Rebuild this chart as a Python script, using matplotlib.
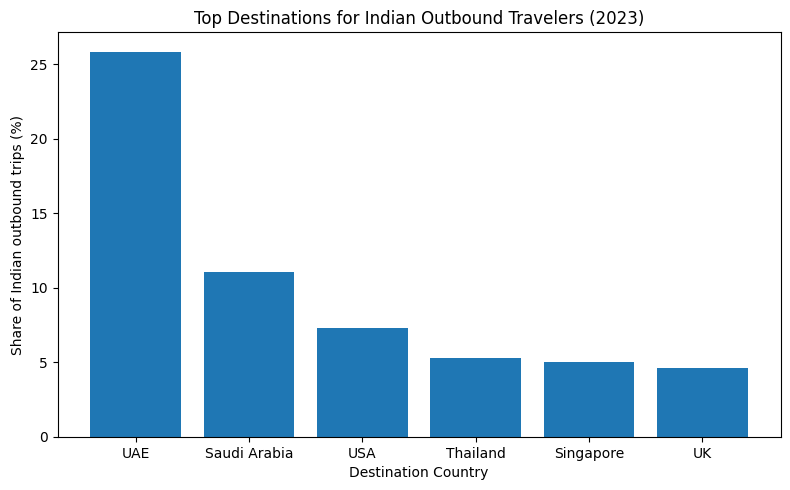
import matplotlib
matplotlib.use("Agg")
import matplotlib.pyplot as plt

countries = ["UAE", "Saudi Arabia", "USA", "Thailand", "Singapore", "UK"]
shares = [25.85, 11.1, 7.3, 5.3, 5.0, 4.6]

fig, ax = plt.subplots(figsize=(7.9, 4.9), dpi=100)
ax.bar(countries, shares, color="#1f77b4")
ax.set_title("Top Destinations for Indian Outbound Travelers (2023)")
ax.set_xlabel("Destination Country")
ax.set_ylabel("Share of Indian outbound trips (%)")
fig.subplots_adjust(left=0.0728, right=0.988, top=0.9337, bottom=0.1082)
fig.savefig("out.png")
